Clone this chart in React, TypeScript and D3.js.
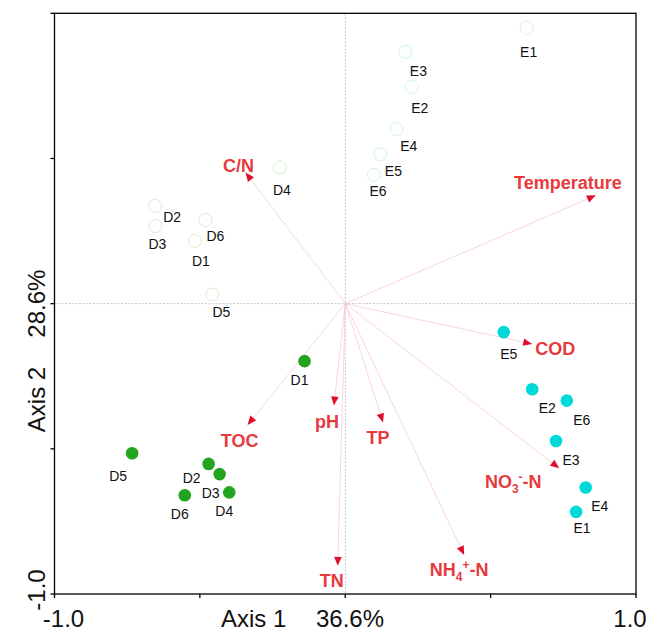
import React from "react";
import * as d3 from "d3";

// ---- data ----
const hollowE = ["E1", "E3", "E2", "E4", "E5", "E6"];
const hollowEX = [0.624, 0.207, 0.229, 0.177, 0.121, 0.099];
const hollowEY = [0.951, 0.868, 0.747, 0.601, 0.514, 0.444];

const hollowD = ["D4", "D2", "D3", "D6", "D1", "D5"];
const hollowDX = [-0.225, -0.654, -0.653, -0.481, -0.517, -0.457];
const hollowDY = [0.469, 0.337, 0.267, 0.288, 0.216, 0.031];

const filledE = ["E5", "E2", "E6", "E3", "E4", "E1"];
const filledEX = [0.545, 0.643, 0.762, 0.725, 0.827, 0.794];
const filledEY = [-0.098, -0.295, -0.334, -0.473, -0.633, -0.717];

const filledD = ["D1", "D5", "D2", "D3", "D4", "D6"];
const filledDX = [-0.14, -0.733, -0.47, -0.432, -0.399, -0.552];
const filledDY = [-0.198, -0.515, -0.552, -0.587, -0.65, -0.66];

// label offsets (pixels) [dx, dy-baseline]
const hollowEOff = [[2, 29], [13, 24], [8, 26], [12, 22], [13, 22], [4, 21]];
const hollowDOff = [[2, 28], [17, 16], [2, 23], [10, 21], [6, 25], [9, 22]];
const filledEOff = [[5, 27], [15, 24], [15, 24], [15, 24], [14, 24], [6, 21]];
const filledDOff = [[-5, 24], [-14, 28], [-17, 19], [-9, 24], [-5, 24], [-5, 24]];

const envVars = ["C/N", "Temperature", "COD", "NO3-N", "NH4-N", "TN", "TP", "pH", "TOC"];
const envX = [-0.343, 0.862, 0.643, 0.736, 0.409, -0.026, 0.13, -0.039, -0.336];
const envY = [0.452, 0.373, -0.139, -0.567, -0.866, -0.903, -0.409, -0.351, -0.418];
const envOff = [[-7, 0], [-28, -6], [23, 11], [-46, 20], [-5, 21], [-6, 21], [-5, 22], [-7, 22], [-8, 22]];

const xTicks = [-1, -0.5, 0, 0.5, 1];
const yTicks = [-1, -0.5, 0, 0.5, 1];

const FONT = "'Liberation Sans', Arial, Helvetica, sans-serif";
const RED_TEXT = "#e63a3e";
const RED_HEAD = "#e0102c";
const LINE_PINK = "#f9c3cf";
const GREEN = "#22a41e";
const CYAN = "#00d9d9";

function EnvLabel({ name, x, y }: { name: string; x: number; y: number }) {
  const common = {
    x,
    y,
    textAnchor: "middle" as const,
    fontFamily: FONT,
    fontWeight: 700,
    fontSize: 18,
    fill: RED_TEXT,
  };
  if (name === "NO3-N") {
    return (
      <text {...common}>
        NO
        <tspan fontSize={12} dy={5}>3</tspan>
        <tspan fontSize={12} dy={-12}>-</tspan>
        <tspan dy={7}>-N</tspan>
      </text>
    );
  }
  if (name === "NH4-N") {
    return (
      <text {...common}>
        NH
        <tspan fontSize={12} dy={5}>4</tspan>
        <tspan fontSize={12} dy={-12}>+</tspan>
        <tspan dy={7}>-N</tspan>
      </text>
    );
  }
  return <text {...common}>{name}</text>;
}

export default function App() {
  const W = 656;
  const H = 632;
  const x = d3.scaleLinear().domain([-1, 1]).range([54.5, 636]);
  const y = d3.scaleLinear().domain([-1, 1]).range([594, 13.3]);
  const x0 = x(0);
  const y0 = y(0);

  const arrows = envVars.map((name, i) => {
    const tx = x(envX[i]);
    const ty = y(envY[i]);
    const ang = Math.atan2(ty - y0, tx - x0);
    const len = 9;
    const hw = 3.8;
    const bx = tx - len * Math.cos(ang);
    const by = ty - len * Math.sin(ang);
    const px = -Math.sin(ang) * hw;
    const py = Math.cos(ang) * hw;
    const head = d3.path();
    head.moveTo(tx, ty);
    head.lineTo(bx + px, by + py);
    head.lineTo(bx - px, by - py);
    head.closePath();
    return { name, tx, ty, bx, by, head: head.toString(), off: envOff[i] };
  });

  const labelStyle = { fontFamily: FONT, fontSize: 14, fill: "#111", textAnchor: "middle" as const };

  return (
    <svg width={W} height={H} style={{ position: "absolute", left: 0, top: 0, background: "#fff" }}>
      {/* dashed center lines */}
      <line x1={x(-1)} x2={x(1)} y1={y0} y2={y0} stroke="#c4c4c4" strokeWidth={1} strokeDasharray="2,1.5" />
      <line x1={x0} x2={x0} y1={y(1)} y2={y(-1)} stroke="#c4c4c4" strokeWidth={1} strokeDasharray="2,1.5" />

      {/* arrows */}
      {arrows.map((a) => (
        <g key={a.name}>
          <line x1={x0} y1={y0} x2={a.bx} y2={a.by} stroke={LINE_PINK} strokeWidth={0.7} />
          <path d={a.head} fill={RED_HEAD} />
        </g>
      ))}

      {/* hollow E */}
      {hollowE.map((n, i) => (
        <g key={"he" + i}>
          <circle cx={x(hollowEX[i])} cy={y(hollowEY[i])} r={6.5} fill="none" stroke="#cdf3f3" strokeWidth={1} />
          <text x={x(hollowEX[i]) + hollowEOff[i][0]} y={y(hollowEY[i]) + hollowEOff[i][1]} {...labelStyle}>{n}</text>
        </g>
      ))}
      {/* hollow D */}
      {hollowD.map((n, i) => (
        <g key={"hd" + i}>
          <circle cx={x(hollowDX[i])} cy={y(hollowDY[i])} r={6.5} fill="none" stroke="#d6efcf" strokeWidth={1} />
          <text x={x(hollowDX[i]) + hollowDOff[i][0]} y={y(hollowDY[i]) + hollowDOff[i][1]} {...labelStyle}>{n}</text>
        </g>
      ))}
      {/* filled E */}
      {filledE.map((n, i) => (
        <g key={"fe" + i}>
          <circle cx={x(filledEX[i])} cy={y(filledEY[i])} r={6.3} fill={CYAN} />
          <text x={x(filledEX[i]) + filledEOff[i][0]} y={y(filledEY[i]) + filledEOff[i][1]} {...labelStyle}>{n}</text>
        </g>
      ))}
      {/* filled D */}
      {filledD.map((n, i) => (
        <g key={"fd" + i}>
          <circle cx={x(filledDX[i])} cy={y(filledDY[i])} r={6.3} fill={GREEN} />
          <text x={x(filledDX[i]) + filledDOff[i][0]} y={y(filledDY[i]) + filledDOff[i][1]} {...labelStyle}>{n}</text>
        </g>
      ))}

      {/* env labels */}
      {arrows.map((a) => (
        <EnvLabel key={"l" + a.name} name={a.name} x={a.tx + a.off[0]} y={a.ty + a.off[1]} />
      ))}

      {/* frame */}
      <rect x={x(-1)} y={y(1)} width={x(1) - x(-1)} height={y(-1) - y(1)} fill="none" stroke="#000" strokeWidth={1.3} />
      {xTicks.map((t) => (
        <line key={"xt" + t} x1={x(t)} x2={x(t)} y1={y(-1)} y2={y(-1) + 4} stroke="#000" strokeWidth={1.3} />
      ))}
      {yTicks.map((t) => (
        <line key={"yt" + t} x1={x(-1) - 4} x2={x(-1)} y1={y(t)} y2={y(t)} stroke="#000" strokeWidth={1.3} />
      ))}

      {/* axis texts */}
      <g fontFamily={FONT} fontSize={24} fill="#111">
        <text x={x(-1) + 9} y={627} textAnchor="middle">-1.0</text>
        <text x={x(1) - 6} y={627} textAnchor="middle">1.0</text>
        <text x={221} y={627}>Axis 1</text>
        <text x={316} y={627}>36.6%</text>
        <text transform={`translate(45,${y(-1) - 4}) rotate(-90)`} textAnchor="middle">-1.0</text>
        <text transform={`translate(45,${y(-0.33)}) rotate(-90)`} textAnchor="middle">Axis 2</text>
        <text transform={`translate(45,${y(0)}) rotate(-90)`} textAnchor="middle">28.6%</text>
      </g>
    </svg>
  );
}
